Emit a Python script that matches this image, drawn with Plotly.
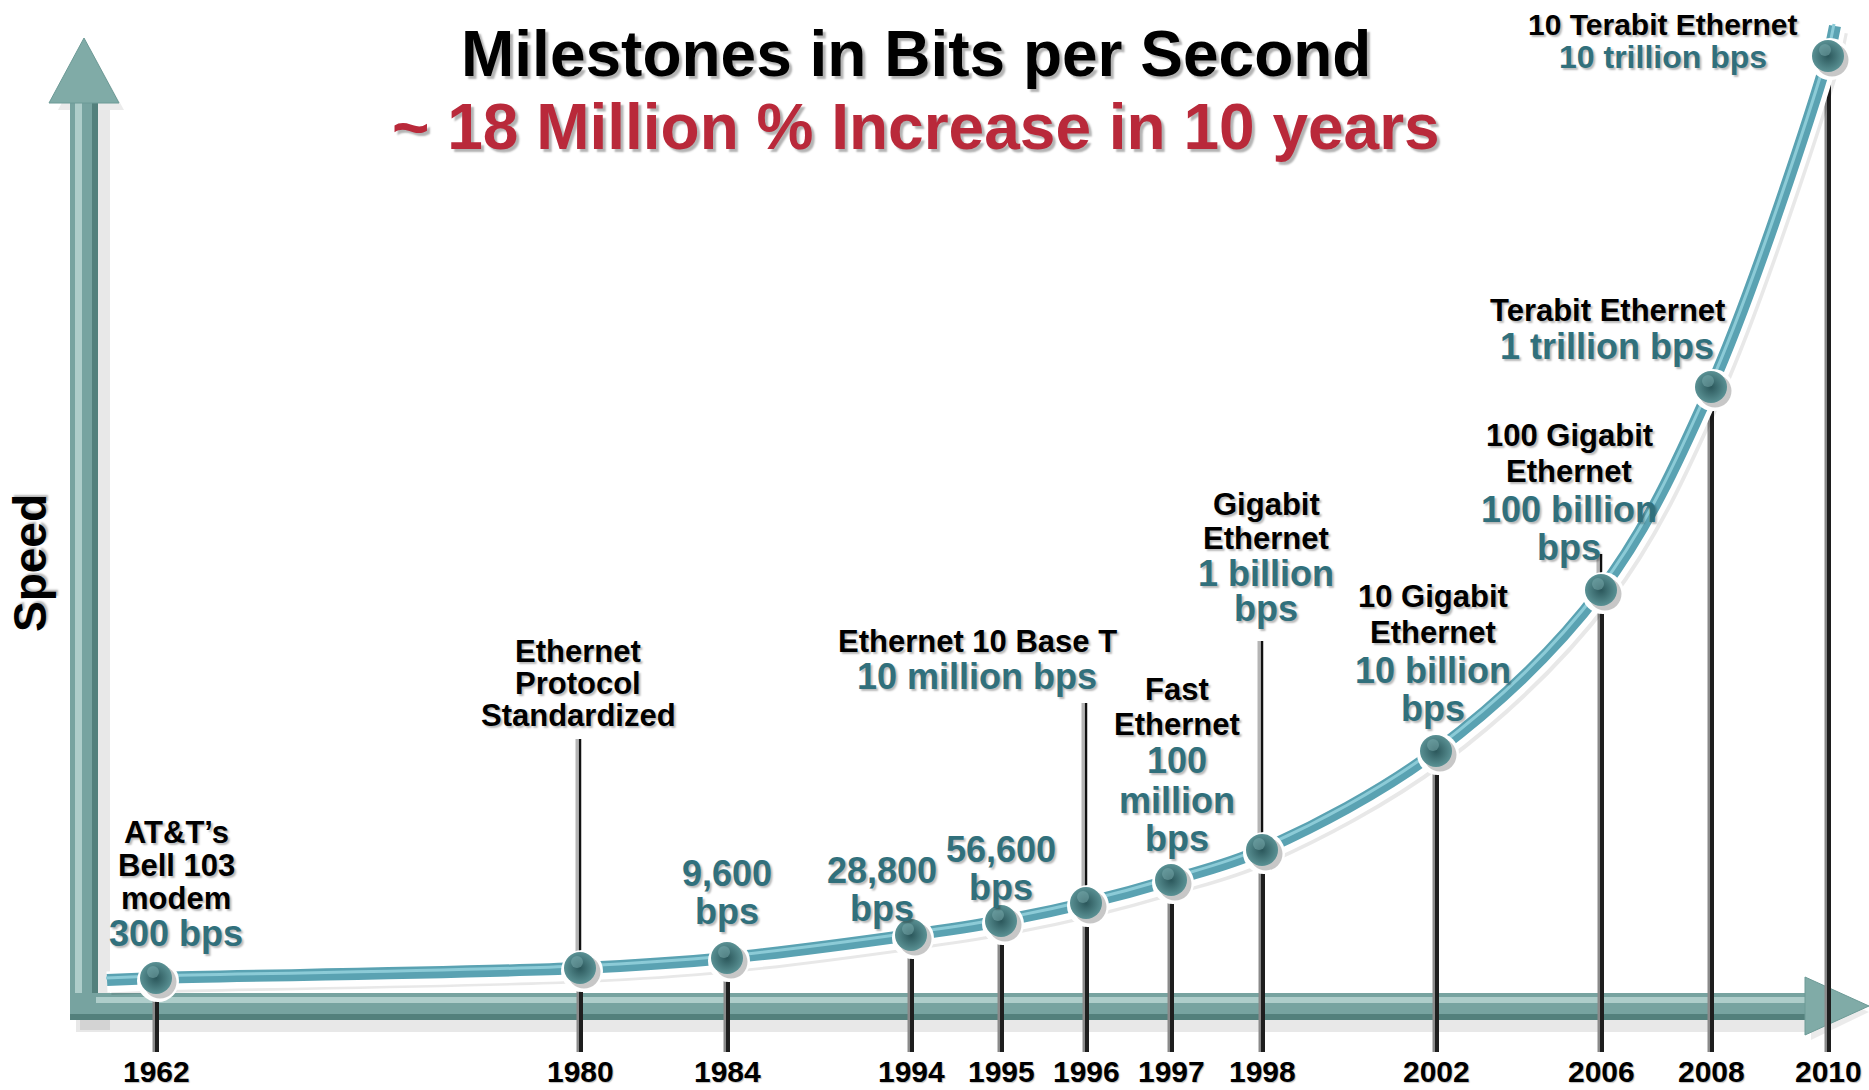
import plotly.graph_objects as go

W, H = 1869, 1090

# ---------------- data ----------------
years = ["1962", "1980", "1984", "1994", "1995", "1996", "1997", "1998",
         "2002", "2006", "2008", "2010"]
# position of each milestone along the (non-linear) timeline
timeline_x = [156, 580, 727, 911, 1001, 1086, 1171, 1262, 1436, 1601, 1711, 1828]
# height of each milestone on the decorative "speed" curve
speed_level = [112, 122, 132, 155, 169, 187, 210, 240, 339, 500, 703, 1034]
milestone_names = ["AT&T\u2019s<br>Bell 103<br>modem", "Ethernet<br>Protocol<br>Standardized",
                   "", "", "", "Ethernet 10 Base T", "Fast<br>Ethernet", "Gigabit<br>Ethernet",
                   "10 Gigabit<br>Ethernet", "100 Gigabit<br>Ethernet", "Terabit Ethernet",
                   "10 Terabit Ethernet"]
speed_labels = ["300 bps", "", "9,600<br>bps", "28,800<br>bps", "56,600<br>bps",
                "10 million bps", "100<br>million<br>bps", "1 billion<br>bps",
                "10 billion<br>bps", "100 billion<br>bps", "1 trillion bps", "10 trillion bps"]

title_text = "Milestones in Bits per Second"
subtitle_text = "~ 18 Million % Increase in 10 years"
axis_title = "Speed"

# ---------------- layout of labels (pixel rows) ----------------
label_layout = [
    dict(x=176, name_y=[832, 865, 898], speed_y=[933]),
    dict(x=578, name_y=[651, 683, 715], speed_y=[], leader=739),
    dict(x=727, name_y=[], speed_y=[873, 911]),
    dict(x=882, name_y=[], speed_y=[870, 908]),
    dict(x=1001, name_y=[], speed_y=[849, 887]),
    dict(x=977, name_y=[641], speed_y=[676], leader=703),
    dict(x=1177, name_y=[689, 724], speed_y=[760, 800, 838]),
    dict(x=1266, name_y=[504, 538], speed_y=[573, 608], leader=641),
    dict(x=1433, name_y=[596, 632], speed_y=[670, 708]),
    dict(x=1569, name_y=[435, 471], speed_y=[509, 547], leader=554),
    dict(x=1607, name_y=[310], speed_y=[346]),
    dict(x=1663, name_y=[24], speed_y=[57], small=True),
]


def L(py):
    """convert a pixel row (from top) to the y-axis level"""
    return H - py


FONT = "Arial, 'Liberation Sans', Helvetica, sans-serif"
TEAL_TXT = "#31707c"
RED = "#b9293a"
ARROW = "#77a3a0"
ARROW_L = "#aecdca"
ARROW_D = "#53807c"

fig = go.Figure()
shapes = []

# ---------------- axes arrows ----------------
# shadows
shapes.append(dict(type="rect", x0=80, x1=110, y0=L(1030), y1=L(110), fillcolor="rgba(0,0,0,0.09)", line_width=0, layer="below"))
shapes.append(dict(type="rect", x0=76, x1=1806, y0=L(1032), y1=L(1000), fillcolor="rgba(0,0,0,0.09)", line_width=0, layer="below"))
shapes.append(dict(type="path", path=f"M 1811,{L(986)} L 1869,{L(1012)} L 1811,{L(1040)} Z", fillcolor="rgba(0,0,0,0.08)", line_width=0, layer="below"))
shapes.append(dict(type="path", path=f"M 90,{L(48)} L 124,{L(110)} L 58,{L(110)} Z", fillcolor="rgba(0,0,0,0.08)", line_width=0, layer="below"))
# vertical shaft
shapes.append(dict(type="rect", x0=70, x1=98, y0=L(1020), y1=L(100), fillcolor=ARROW, line_width=0, layer="below"))
shapes.append(dict(type="rect", x0=75, x1=82, y0=L(1000), y1=L(100), fillcolor=ARROW_L, line_width=0, layer="below"))
shapes.append(dict(type="rect", x0=92, x1=98, y0=L(993), y1=L(100), fillcolor=ARROW_D, line_width=0, layer="below"))
# horizontal shaft
shapes.append(dict(type="rect", x0=70, x1=1808, y0=L(1020), y1=L(993), fillcolor=ARROW, line_width=0, layer="below"))
shapes.append(dict(type="rect", x0=96, x1=1808, y0=L(1003), y1=L(997), fillcolor=ARROW_L, line_width=0, layer="below"))
shapes.append(dict(type="rect", x0=70, x1=1808, y0=L(1020), y1=L(1014), fillcolor=ARROW_D, line_width=0, layer="below"))
# heads
shapes.append(dict(type="path", path=f"M 84,{L(38)} L 119,{L(103)} L 49,{L(103)} Z", fillcolor="#80aba7", line=dict(color="#6c9a96", width=1), layer="below"))
shapes.append(dict(type="path", path=f"M 1805,{L(977)} L 1869,{L(1006)} L 1805,{L(1035)} Z", fillcolor="#80aba7", line=dict(color="#6c9a96", width=1), layer="below"))

# ---------------- stems ----------------
STEM_BOTTOM = L(1052)
for xv, lv, lay in zip(timeline_x, speed_level, label_layout):
    shapes.append(dict(type="line", x0=xv - 2, x1=xv - 2, y0=lv - 14, y1=STEM_BOTTOM, line=dict(color="#8a8a8a", width=3), layer="below"))
    shapes.append(dict(type="line", x0=xv + 1, x1=xv + 1, y0=lv - 14, y1=STEM_BOTTOM, line=dict(color="#1e1e1e", width=4), layer="below"))
    if "leader" in lay:
        top = L(lay["leader"])
        shapes.append(dict(type="line", x0=xv - 3, x1=xv - 3, y0=lv + 12, y1=top, line=dict(color="#b5b5b5", width=3), layer="below"))
        shapes.append(dict(type="line", x0=xv, x1=xv, y0=lv + 12, y1=top, line=dict(color="#111111", width=2.5), layer="below"))

# ---------------- curve ----------------
curve_x = [timeline_x[0] - 49] + timeline_x + [timeline_x[-1] + 7]
curve_y = [speed_level[0] - 2] + speed_level + [speed_level[-1] + 30]

fig.add_trace(go.Scatter(x=[v + 4 for v in curve_x], y=[v - 6 for v in curve_y], mode="lines",
                         line=dict(color="rgba(0,0,0,0.09)", width=18, shape="spline", smoothing=1.0),
                         hoverinfo="skip", showlegend=False))
fig.add_trace(go.Scatter(x=curve_x, y=[v - 2 for v in curve_y], mode="lines",
                         line=dict(color="white", width=21, shape="spline", smoothing=1.0),
                         hoverinfo="skip", showlegend=False))
fig.add_trace(go.Scatter(x=curve_x, y=curve_y, mode="lines",
                         line=dict(color="#5aa2b2", width=12, shape="spline", smoothing=1.0),
                         hoverinfo="skip", showlegend=False))
fig.add_trace(go.Scatter(x=[v - 1 for v in curve_x], y=[v + 2 for v in curve_y], mode="lines",
                         line=dict(color="#8ccbd7", width=3, shape="spline", smoothing=1.0),
                         hoverinfo="skip", showlegend=False))

# ---------------- milestone dots ----------------
fig.add_trace(go.Scatter(x=[v + 2 for v in timeline_x], y=[v - 3 for v in speed_level], mode="markers",
                         marker=dict(size=42, color="white", line_width=0),
                         hoverinfo="skip", showlegend=False))
fig.add_trace(go.Scatter(x=[v + 4 for v in timeline_x], y=[v - 4 for v in speed_level], mode="markers",
                         marker=dict(size=33, color="rgba(0,0,0,0.22)", line_width=0),
                         hoverinfo="skip", showlegend=False))
fig.add_trace(go.Scatter(x=timeline_x, y=speed_level, mode="markers",
                         marker=dict(size=32, color="#5a9194", line_width=0,
                                     gradient=dict(type="radial", color="#2b575b")),
                         text=[f"{y}: {s.replace('<br>', ' ')}" for y, s in zip(years, speed_labels)],
                         hoverinfo="text", showlegend=False))
fig.add_trace(go.Scatter(x=[v - 3 for v in timeline_x], y=[v + 6 for v in speed_level], mode="markers",
                         marker=dict(size=12, color="rgba(130,180,182,0.45)", line_width=0),
                         hoverinfo="skip", showlegend=False))

# ---------------- text ----------------
ann = []
SHADOW = "2px 2px 2px rgba(0,0,0,0.28)"


def txt(x, y, t, size, color, angle=0, shadow=SHADOW):
    ann.append(dict(x=x, y=y, xref="x", yref="y", text=f"<b>{t}</b>", showarrow=False,
                    xanchor="center", yanchor="middle", textangle=angle,
                    font=dict(family=FONT, size=size, color=color, shadow=shadow)))


txt(916, L(54), title_text, 64, "black", shadow="3px 3px 2px rgba(0,0,0,0.30)")
txt(916, L(127), subtitle_text, 64, RED, shadow="3px 3px 2px rgba(0,0,0,0.30)")
txt(30, L(563), axis_title, 46, "black", angle=-90)

for name, spd, lay in zip(milestone_names, speed_labels, label_layout):
    small = lay.get("small", False)
    nlines = [s for s in name.split("<br>") if s]
    slines = [s for s in spd.split("<br>") if s]
    for s, yy in zip(nlines, lay["name_y"]):
        txt(lay["x"], L(yy), s, 30 if small else 31, "black")
    for s, yy in zip(slines, lay["speed_y"]):
        txt(lay["x"], L(yy), s, 32 if small else 36, TEAL_TXT)

for xv, yr in zip(timeline_x, years):
    txt(xv, L(1071), yr, 30, "black", shadow="1px 1px 1px rgba(0,0,0,0.25)")

fig.update_layout(
    width=W, height=H, margin=dict(l=0, r=0, t=0, b=0),
    paper_bgcolor="white", plot_bgcolor="white",
    xaxis=dict(range=[0, W], visible=False, fixedrange=True),
    yaxis=dict(range=[0, H], visible=False, fixedrange=True),
    shapes=shapes, annotations=ann, showlegend=False,
)

fig.write_html("out.html")
